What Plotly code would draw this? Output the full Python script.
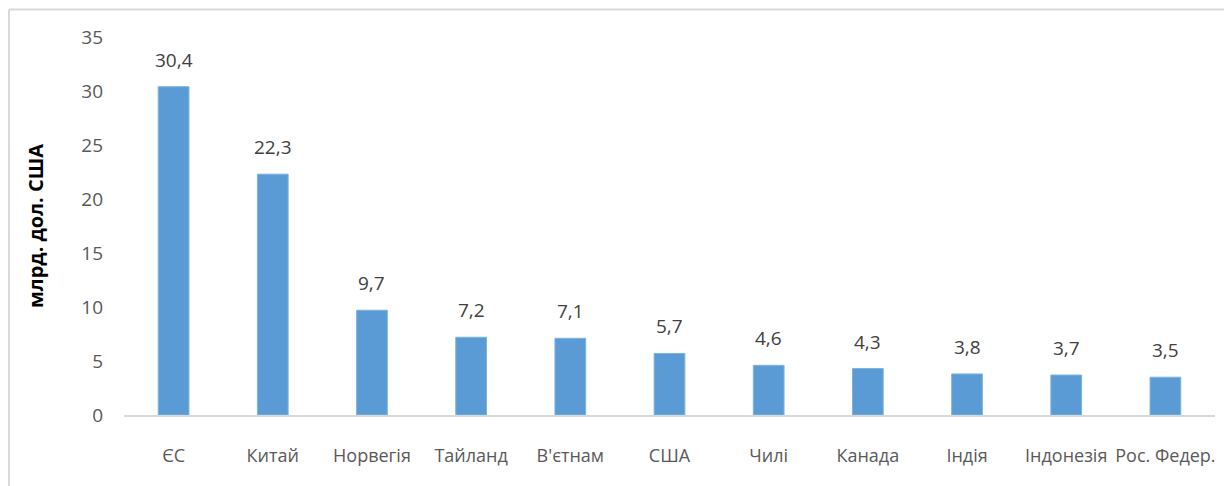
import plotly.graph_objects as go

categories = ["ЄС", "Китай", "Норвегія", "Тайланд", "В'єтнам", "США", "Чилі", "Канада", "Індія", "Індонезія", "Рос. Федер."]
values = [30.4, 22.3, 9.7, 7.2, 7.1, 5.7, 4.6, 4.3, 3.8, 3.7, 3.5]
labels = [f"{v:.1f}".replace(".", ",") for v in values]
y_ticks = [0, 5, 10, 15, 20, 25, 30, 35]

# page body has an 8px margin; size figure accordingly
W, H = 1224, 478
ml, mr, mt, mb = 116, 17, 29, 71
pw, ph = W - ml - mr, H - mt - mb

font_fam = "Open Sans, Noto Sans, sans-serif"
gray = "#595959"

fig = go.Figure()
fig.add_trace(go.Bar(
    x=categories, y=values,
    marker=dict(color="#5B9BD5", line=dict(color="#7fb2df", width=1)),
    width=0.31,
    hoverinfo="skip",
))

for c, v, t in zip(categories, values, labels):
    fig.add_annotation(x=c, y=v, text=t, showarrow=False, yanchor="bottom",
                       yshift=12, font=dict(family=font_fam, size=19, color="#404040"))

# outer chart border (top and left)
fig.add_shape(type="line", xref="paper", yref="paper",
              x0=(1 - ml) / pw, x1=(W + 5 - ml) / pw,
              y0=1 + (mt - 1.5) / ph, y1=1 + (mt - 1.5) / ph,
              line=dict(color="#d9d9d9", width=2))
fig.add_shape(type="line", xref="paper", yref="paper",
              x0=(1 - ml) / pw, x1=(1 - ml) / pw,
              y0=1 + (mt - 1.5) / ph, y1=-(mb + 10) / ph,
              line=dict(color="#d9d9d9", width=2))

fig.update_layout(
    width=W, height=H,
    margin=dict(l=ml, r=mr, t=mt, b=mb, autoexpand=False),
    paper_bgcolor="white", plot_bgcolor="white",
    showlegend=False,
    font=dict(family=font_fam, color=gray),
    xaxis=dict(showline=True, linecolor="#d9d9d9", linewidth=1.5, automargin=False,
               showgrid=False, ticks="", tickfont=dict(size=18, color=gray),
               ticklabelstandoff=24,
               range=[-0.5, len(categories) - 0.5]),
    yaxis=dict(range=[0, 35], tickvals=y_ticks, showgrid=False, zeroline=False,
               showline=False, ticks="", ticklabelstandoff=20, automargin=False,
               tickfont=dict(size=19, color=gray),
               title=dict(text="<b>млрд. дол. США</b>", standoff=32,
                          font=dict(size=20, color="#000000"))),
)

fig.write_html("out.html")
